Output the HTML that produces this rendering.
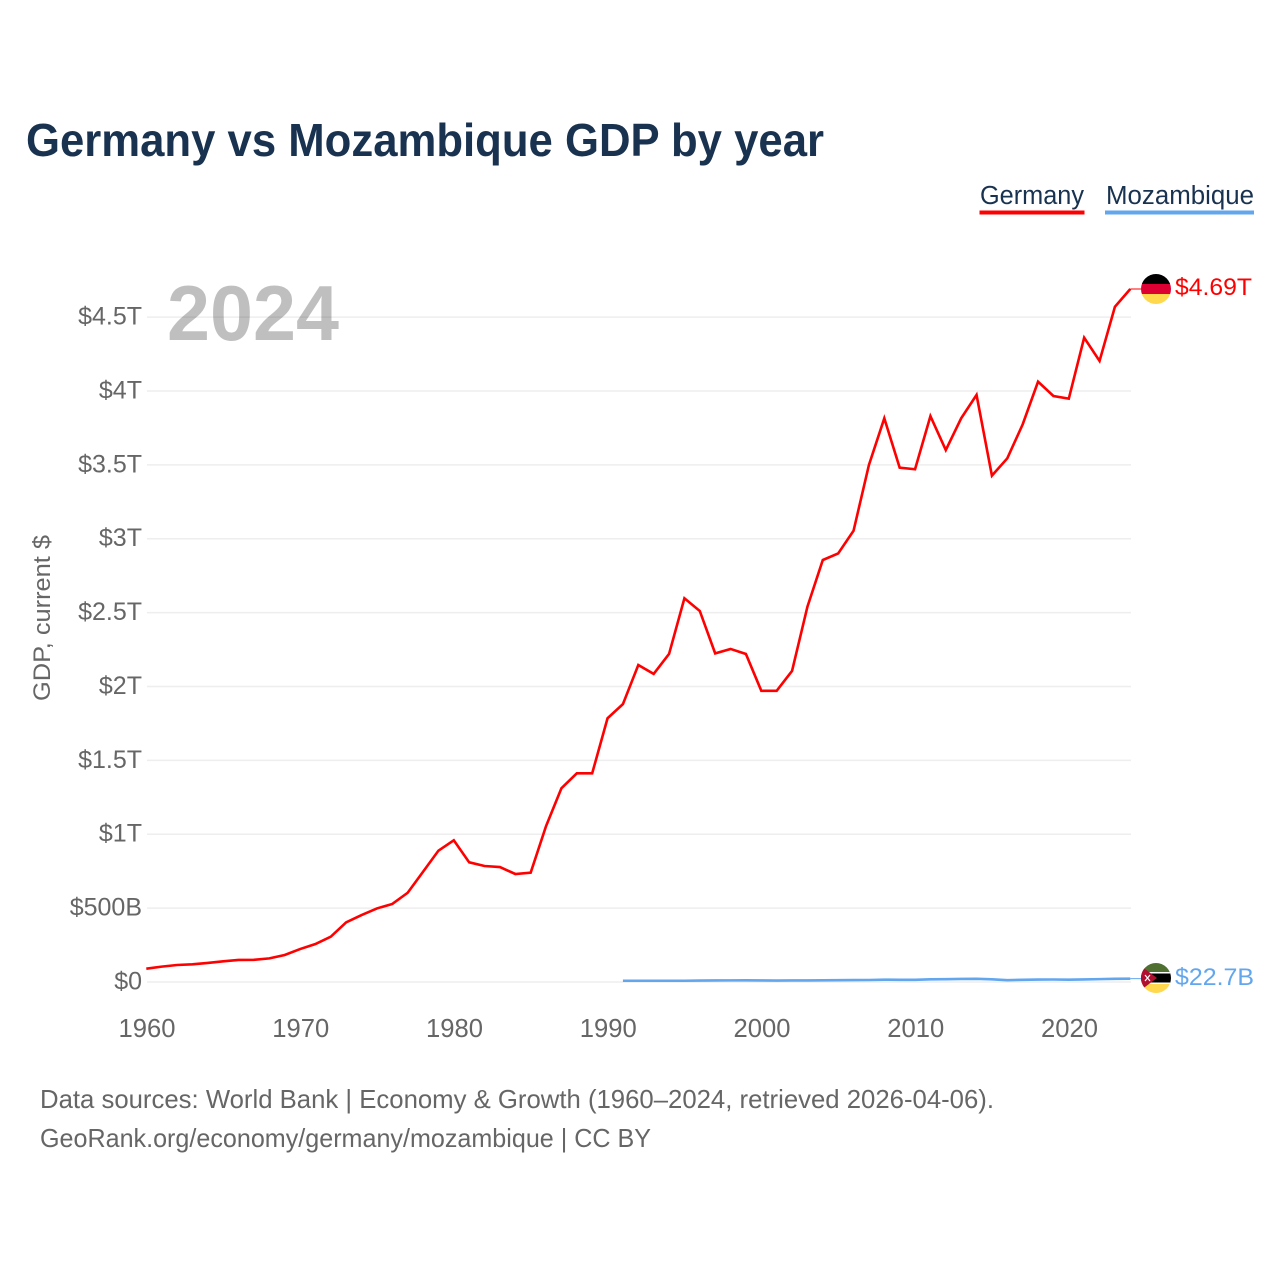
<!DOCTYPE html>
<html lang="en">
<head>
<meta charset="utf-8">
<title>Germany vs Mozambique GDP by year</title>
<style>
html,body{margin:0;padding:0;background:#fff;}
svg{display:block;font-family:"Liberation Sans",sans-serif;}
</style>
</head>
<body>
<svg id="chart" xmlns="http://www.w3.org/2000/svg" width="1280" height="1280" viewBox="0 0 1280 1280">
  <defs>
    <clipPath id="clip-de"><circle cx="1156" cy="289" r="15"/></clipPath>
    <clipPath id="clip-mz"><circle cx="1156" cy="978" r="15"/></clipPath>
  </defs>
  <rect x="0" y="0" width="1280" height="1280" fill="#fff"/>
  <text x="26" y="156" font-size="46" font-weight="700" fill="#18324f" textLength="798" lengthAdjust="spacingAndGlyphs">Germany vs Mozambique GDP by year</text>

  <g>
    <g>
      <text x="980" y="204" font-size="25.5" fill="#18324f" textLength="104" lengthAdjust="spacingAndGlyphs">Germany</text>
      <rect x="979.5" y="210.5" width="105" height="4" fill="#ff0000"/>
    </g>
    <g>
      <text x="1106" y="204" font-size="25.5" fill="#18324f" textLength="148" lengthAdjust="spacingAndGlyphs">Mozambique</text>
      <rect x="1105" y="210.5" width="149" height="4" fill="#62a6ee"/>
    </g>
  </g>

  <g id="grid"></g>
  <text x="167" y="340" font-size="78" font-weight="700" fill="#000" fill-opacity="0.25" textLength="172" lengthAdjust="spacingAndGlyphs">2024</text>
  <g id="yticks"></g>
  <g id="xticks"></g>
  <text transform="translate(50,618) rotate(-90)" text-anchor="middle" font-size="24.5" fill="#666" textLength="166" lengthAdjust="spacingAndGlyphs">GDP, current $</text>

  <g id="series"></g>

  <g clip-path="url(#clip-de)">
    <rect x="1141" y="274" width="30" height="10" fill="#000"/>
    <rect x="1141" y="284" width="30" height="10" fill="#dd0033"/>
    <rect x="1141" y="294" width="30" height="10" fill="#ffd84d"/>
  </g>
  <g clip-path="url(#clip-mz)">
    <rect x="1141" y="963" width="30" height="10" fill="#4f7031"/>
    <rect x="1141" y="973" width="30" height="10" fill="#000"/>
    <rect x="1141" y="983" width="30" height="10" fill="#ffd84d"/>
    <rect x="1141" y="972" width="30" height="1.5" fill="#fff"/>
    <rect x="1141" y="982.5" width="30" height="1.5" fill="#fff"/>
    <polygon points="1141,966 1157,978 1141,990" fill="#b01030"/>
    <path d="M1145 975 L1150 981 M1150 975 L1145 981" stroke="#fff" stroke-width="1.2"/>
  </g>

  <text x="1175" y="295" font-size="24.5" fill="#ff0000" textLength="77" lengthAdjust="spacingAndGlyphs">$4.69T</text>
  <text x="1175" y="985" font-size="24.5" fill="#62a6ee" textLength="79" lengthAdjust="spacingAndGlyphs">$22.7B</text>

  <text x="40" y="1108" font-size="26" fill="#666" textLength="954" lengthAdjust="spacingAndGlyphs">Data sources: World Bank | Economy &amp; Growth (1960–2024, retrieved 2026-04-06).</text>
  <a><text x="40" y="1147" font-size="26" fill="#666" textLength="611" lengthAdjust="spacingAndGlyphs">GeoRank.org/economy/germany/mozambique | CC BY</text></a>
</svg>
<script>
const yTickValues = [0, 0.5, 1, 1.5, 2, 2.5, 3, 3.5, 4, 4.5];
const yTickLabels = ["$0", "$500B", "$1T", "$1.5T", "$2T", "$2.5T", "$3T", "$3.5T", "$4T", "$4.5T"];
const xTickYears = [1960, 1970, 1980, 1990, 2000, 2010, 2020];
const germanyStartYear = 1960;
const germanyGdpTrillions = [
  0.090, 0.104, 0.115, 0.120, 0.129, 0.140, 0.149, 0.150, 0.160, 0.183,
  0.223, 0.257, 0.307, 0.404, 0.453, 0.498, 0.528, 0.604, 0.746, 0.889,
  0.959, 0.810, 0.785, 0.778, 0.731, 0.740, 1.055, 1.311, 1.412, 1.412,
  1.785, 1.881, 2.145, 2.085, 2.220, 2.597, 2.511, 2.224, 2.254, 2.220,
  1.971, 1.971, 2.105, 2.540, 2.856, 2.900, 3.054, 3.499, 3.815, 3.481,
  3.470, 3.830, 3.600, 3.815, 3.973, 3.427, 3.544, 3.774, 4.063, 3.966,
  3.948, 4.361, 4.203, 4.570, 4.690
];
const mozambiqueStartYear = 1991;
const mozambiqueGdpTrillions = [
  0.0085, 0.0085, 0.0085, 0.0085, 0.0085, 0.0095, 0.0105, 0.0110, 0.0115, 0.0105,
  0.0100, 0.0105, 0.0105, 0.0115, 0.0120, 0.0130, 0.0135, 0.0155, 0.0150, 0.0145,
  0.0180, 0.0190, 0.0205, 0.0215, 0.0185, 0.0125, 0.0150, 0.0165, 0.0170, 0.0155,
  0.0175, 0.0195, 0.0215, 0.0227
];

const SVG_NS = "http://www.w3.org/2000/svg";
const xScale = function (year) { return 146.3 + (year - 1960) * 15.375; };
const yScale = function (value) { return 982 - value * 147.76; };

const gridGroup = document.getElementById("grid");
const yTickGroup = document.getElementById("yticks");
const xTickGroup = document.getElementById("xticks");
const seriesGroup = document.getElementById("series");

yTickValues.forEach(function (value, i) {
  const line = document.createElementNS(SVG_NS, "line");
  
  
  line.setAttribute("x1", 147);
  line.setAttribute("x2", 1131);
  line.setAttribute("y1", yScale(value));
  line.setAttribute("y2", yScale(value));
  line.setAttribute("stroke", "#eeeeee");
  line.setAttribute("stroke-width", 1.5);
  gridGroup.appendChild(line);

  const label = document.createElementNS(SVG_NS, "text");
  
  
  label.setAttribute("x", 142);
  label.setAttribute("y", yScale(value) + 7.5);
  label.setAttribute("text-anchor", "end");
  label.setAttribute("font-size", 25);
  label.setAttribute("fill", "#666");
  label.textContent = yTickLabels[i];
  yTickGroup.appendChild(label);
});

xTickYears.forEach(function (year) {
  const label = document.createElementNS(SVG_NS, "text");
  
  
  label.setAttribute("x", xScale(year) + 0.7);
  label.setAttribute("y", 1037);
  label.setAttribute("text-anchor", "middle");
  label.setAttribute("font-size", 25.6);
  label.setAttribute("fill", "#666");
  label.textContent = String(year);
  xTickGroup.appendChild(label);
});

function linePoints(startYear, values) {
  return values.map(function (value, i) {
    return xScale(startYear + i).toFixed(2) + "," + yScale(value).toFixed(2);
  }).join(" ");
}

const germanyLine = document.createElementNS(SVG_NS, "polyline");


germanyLine.setAttribute("points", linePoints(germanyStartYear, germanyGdpTrillions));
germanyLine.setAttribute("fill", "none");
germanyLine.setAttribute("stroke", "#ff0000");
germanyLine.setAttribute("stroke-width", 2.6);
seriesGroup.appendChild(germanyLine);

const mozambiqueLine = document.createElementNS(SVG_NS, "polyline");


mozambiqueLine.setAttribute("points", linePoints(mozambiqueStartYear, mozambiqueGdpTrillions));
mozambiqueLine.setAttribute("fill", "none");
mozambiqueLine.setAttribute("stroke", "#62a6ee");
mozambiqueLine.setAttribute("stroke-width", 2.6);
seriesGroup.appendChild(mozambiqueLine);

const germanyLast = germanyGdpTrillions[germanyGdpTrillions.length - 1];
const germanyLeader = document.createElementNS(SVG_NS, "line");


germanyLeader.setAttribute("x1", xScale(2024));
germanyLeader.setAttribute("x2", 1141);
germanyLeader.setAttribute("y1", yScale(germanyLast));
germanyLeader.setAttribute("y2", yScale(germanyLast));
germanyLeader.setAttribute("stroke", "#ff0000");
germanyLeader.setAttribute("stroke-width", 1);
seriesGroup.appendChild(germanyLeader);

const mozambiqueLast = mozambiqueGdpTrillions[mozambiqueGdpTrillions.length - 1];
const mozambiqueLeader = document.createElementNS(SVG_NS, "line");


mozambiqueLeader.setAttribute("x1", xScale(2024));
mozambiqueLeader.setAttribute("x2", 1141);
mozambiqueLeader.setAttribute("y1", yScale(mozambiqueLast));
mozambiqueLeader.setAttribute("y2", yScale(mozambiqueLast));
mozambiqueLeader.setAttribute("stroke", "#62a6ee");
mozambiqueLeader.setAttribute("stroke-width", 1);
seriesGroup.appendChild(mozambiqueLeader);
</script>
</body>
</html>
